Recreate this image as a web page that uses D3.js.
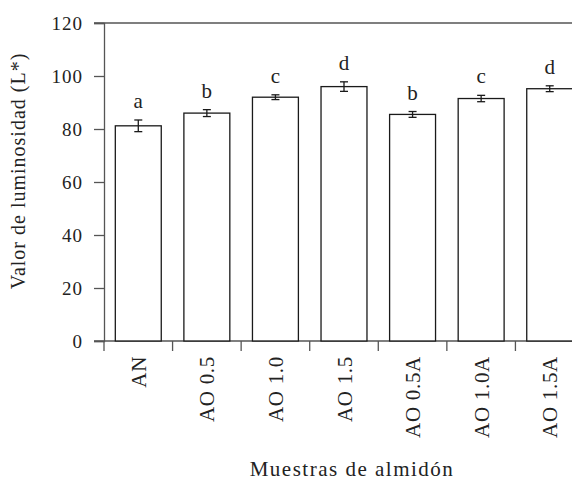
<!DOCTYPE html>
<html>
<head>
<meta charset="utf-8">
<script src="https://cdn.jsdelivr.net/npm/d3@7"></script>
<style>
  html, body { margin: 0; padding: 0; background: #fff; }
  svg { display: block; }
</style>
</head>
<body>
<svg id="chart" width="572" height="481"></svg>
<script>
// Lightness (L*) per starch sample, with standard deviation and significance group
const samples = ["AN", "AO 0.5", "AO 1.0", "AO 1.5", "AO 0.5A", "AO 1.0A", "AO 1.5A"];
const lightness = [81.2, 86.0, 92.0, 96.0, 85.5, 91.5, 95.2];
const stdDev = [2.2, 1.3, 0.9, 1.8, 1.1, 1.2, 1.1];
const groups = ["a", "b", "c", "d", "b", "c", "d"];
const yTicks = [0, 20, 40, 60, 80, 100, 120];

const serif = "Liberation Serif, Tinos, Times New Roman, Times, DejaVu Serif, serif";
const svg = d3.select("#chart");
const axisColor = "#555";

const x = d3.scaleBand()
  .domain(samples)
  .range([104, 584])
  .paddingInner(0.33)
  .paddingOuter(0.165);

const y = d3.scaleLinear().domain([0, 120]).range([341, 23]);

// Frame: top border at the upper limit of the axis
svg.append("line")
  .attr("x1", 94).attr("x2", 584)
  .attr("y1", y(120)).attr("y2", y(120))
  .attr("stroke", axisColor).attr("stroke-width", 1.3);

// Y axis
const yAxis = svg.append("g").attr("transform", "translate(104,0)")
  .call(d3.axisLeft(y).tickValues(yTicks).tickSize(10).tickPadding(11));
yAxis.attr("font-family", null).attr("font-size", null);
yAxis.select(".domain").attr("stroke", axisColor).attr("stroke-width", 1.3);
yAxis.selectAll(".tick line").attr("stroke", axisColor).attr("stroke-width", 1.3);
yAxis.selectAll(".tick text")
  .style("font-family", serif)
  .style("font-size", "19px")
  .attr("letter-spacing", 1)
  .attr("fill", "#222");

// X axis: ticks sit on the boundaries between categories
const step = x.step();
const boundaries = d3.range(samples.length + 1).map(i => x.range()[0] + i * step);
svg.append("line")
  .attr("x1", 94).attr("x2", 584)
  .attr("y1", y(0)).attr("y2", y(0))
  .attr("stroke", axisColor).attr("stroke-width", 1.3);
svg.selectAll(".xtick").data(boundaries).join("line")
  .attr("class", "xtick")
  .attr("x1", d => d).attr("x2", d => d)
  .attr("y1", y(0)).attr("y2", y(0) + 10)
  .attr("stroke", axisColor).attr("stroke-width", 1.3);

// Rotated category labels
svg.selectAll(".xlabel").data(samples).join("text")
  .attr("class", "xlabel")
  .attr("transform", d => `translate(${x(d) + x.bandwidth() / 2 + 7.5},356) rotate(-90)`)
  .attr("text-anchor", "end")
  .style("font-family", serif)
  .style("font-size", "21px")
  .attr("letter-spacing", 0.7)
  .attr("fill", "#222")
  .text(d => d);

// Bars
const data = samples.map((s, i) => ({ s, v: lightness[i], e: stdDev[i], g: groups[i] }));
svg.selectAll(".bar").data(data).join("rect")
  .attr("class", "bar")
  .attr("x", d => x(d.s))
  .attr("y", d => y(d.v))
  .attr("width", x.bandwidth())
  .attr("height", d => y(0) - y(d.v))
  .attr("fill", "#fff")
  .attr("stroke", "#1a1a1a")
  .attr("stroke-width", 1.3);

// Error bars
const cap = 4;
const eb = svg.selectAll(".err").data(data).join("g").attr("class", "err")
  .attr("stroke", "#1a1a1a").attr("stroke-width", 1.3);
eb.append("line")
  .attr("x1", d => x(d.s) + x.bandwidth() / 2).attr("x2", d => x(d.s) + x.bandwidth() / 2)
  .attr("y1", d => y(d.v - d.e)).attr("y2", d => y(d.v + d.e));
eb.append("line")
  .attr("x1", d => x(d.s) + x.bandwidth() / 2 - cap).attr("x2", d => x(d.s) + x.bandwidth() / 2 + cap)
  .attr("y1", d => y(d.v + d.e)).attr("y2", d => y(d.v + d.e));
eb.append("line")
  .attr("x1", d => x(d.s) + x.bandwidth() / 2 - cap).attr("x2", d => x(d.s) + x.bandwidth() / 2 + cap)
  .attr("y1", d => y(d.v - d.e)).attr("y2", d => y(d.v - d.e));

// Significance letters
svg.selectAll(".grp").data(data).join("text")
  .attr("class", "grp")
  .attr("x", d => x(d.s) + x.bandwidth() / 2)
  .attr("y", d => y(d.v + d.e) - 12)
  .attr("text-anchor", "middle")
  .style("font-family", serif)
  .style("font-size", "21px")
  .attr("fill", "#222")
  .text(d => d.g);

// Axis titles
svg.append("text")
  .attr("transform", "translate(25,171) rotate(-90)")
  .attr("text-anchor", "middle")
  .style("font-family", serif)
  .style("font-size", "20px")
  .attr("letter-spacing", 1)
  .attr("fill", "#222")
  .text("Valor de luminosidad (L*)");

svg.append("text")
  .attr("x", 352).attr("y", 476)
  .attr("text-anchor", "middle")
  .style("font-family", serif)
  .style("font-size", "21px")
  .attr("letter-spacing", 1.5)
  .attr("fill", "#222")
  .text("Muestras de almidón");
</script>
</body>
</html>
